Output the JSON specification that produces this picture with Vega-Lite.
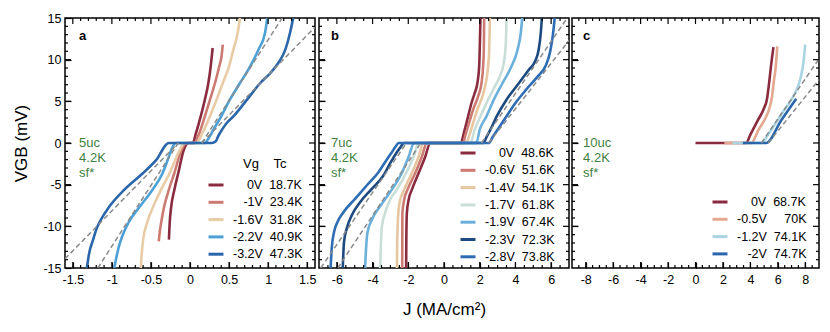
{
  "$schema": "https://vega.github.io/schema/vega-lite/v6.json",
  "padding": {"left": 12, "top": 11, "right": 5, "bottom": 5},
  "spacing": 0,
  "resolve": {"scale": {"x": "independent", "y": "independent", "color": "independent"}, "legend": {"color": "independent"}},
  "config": {
    "font": "Liberation Sans",
    "view": {"stroke": "#000", "strokeWidth": 1.5},
    "axis": {"labelFontSize": 12.5, "labelColor": "#000", "domain": false, "grid": false, "labelFont": "Liberation Sans", "titleFont": "Liberation Sans", "titleFontWeight": "normal", "titleColor": "#000", "labelOverlap": false, "labelFlush": false},
    "legend": {"symbolType": "stroke", "symbolStrokeWidth": 3, "symbolSize": 225, "labelFontSize": 12.5, "labelFont": "Liberation Sans", "labelColor": "#000", "rowPadding": 1.3, "labelOffset": 8, "titleFontSize": 13, "titleFontWeight": "normal", "titleFont": "Liberation Sans", "titleColor": "#000", "titlePadding": 5, "padding": 0}
  },
  "datasets": {
    "va": [
      {"x": -1.5, "y": -15, "k": "M"}, {"x": -1.5, "y": 15, "k": "M"}, {"x": -1.4, "y": -15, "k": "m"}, {"x": -1.4, "y": 15, "k": "m"}, {"x": -1.3, "y": -15, "k": "m"}, {"x": -1.3, "y": 15, "k": "m"}, {"x": -1.2, "y": -15, "k": "m"}, {"x": -1.2, "y": 15, "k": "m"}, {"x": -1.1, "y": -15, "k": "m"}, {"x": -1.1, "y": 15, "k": "m"},
      {"x": -1, "y": -15, "k": "M"}, {"x": -1, "y": 15, "k": "M"}, {"x": -0.9, "y": -15, "k": "m"}, {"x": -0.9, "y": 15, "k": "m"}, {"x": -0.8, "y": -15, "k": "m"}, {"x": -0.8, "y": 15, "k": "m"}, {"x": -0.7, "y": -15, "k": "m"}, {"x": -0.7, "y": 15, "k": "m"}, {"x": -0.6, "y": -15, "k": "m"}, {"x": -0.6, "y": 15, "k": "m"},
      {"x": -0.5, "y": -15, "k": "M"}, {"x": -0.5, "y": 15, "k": "M"}, {"x": -0.4, "y": -15, "k": "m"}, {"x": -0.4, "y": 15, "k": "m"}, {"x": -0.3, "y": -15, "k": "m"}, {"x": -0.3, "y": 15, "k": "m"}, {"x": -0.2, "y": -15, "k": "m"}, {"x": -0.2, "y": 15, "k": "m"}, {"x": -0.1, "y": -15, "k": "m"}, {"x": -0.1, "y": 15, "k": "m"},
      {"x": 0, "y": -15, "k": "M"}, {"x": 0, "y": 15, "k": "M"}, {"x": 0.1, "y": -15, "k": "m"}, {"x": 0.1, "y": 15, "k": "m"}, {"x": 0.2, "y": -15, "k": "m"}, {"x": 0.2, "y": 15, "k": "m"}, {"x": 0.3, "y": -15, "k": "m"}, {"x": 0.3, "y": 15, "k": "m"}, {"x": 0.4, "y": -15, "k": "m"}, {"x": 0.4, "y": 15, "k": "m"},
      {"x": 0.5, "y": -15, "k": "M"}, {"x": 0.5, "y": 15, "k": "M"}, {"x": 0.6, "y": -15, "k": "m"}, {"x": 0.6, "y": 15, "k": "m"}, {"x": 0.7, "y": -15, "k": "m"}, {"x": 0.7, "y": 15, "k": "m"}, {"x": 0.8, "y": -15, "k": "m"}, {"x": 0.8, "y": 15, "k": "m"}, {"x": 0.9, "y": -15, "k": "m"}, {"x": 0.9, "y": 15, "k": "m"},
      {"x": 1, "y": -15, "k": "M"}, {"x": 1, "y": 15, "k": "M"}, {"x": 1.1, "y": -15, "k": "m"}, {"x": 1.1, "y": 15, "k": "m"}, {"x": 1.2, "y": -15, "k": "m"}, {"x": 1.2, "y": 15, "k": "m"}, {"x": 1.3, "y": -15, "k": "m"}, {"x": 1.3, "y": 15, "k": "m"}, {"x": 1.4, "y": -15, "k": "m"}, {"x": 1.4, "y": 15, "k": "m"},
      {"x": 1.5, "y": -15, "k": "M"}, {"x": 1.5, "y": 15, "k": "M"}
    ],
    "vb": [
      {"x": -6.5, "y": -15, "k": "m"}, {"x": -6.5, "y": 15, "k": "m"}, {"x": -6, "y": -15, "k": "M"}, {"x": -6, "y": 15, "k": "M"}, {"x": -5.5, "y": -15, "k": "m"}, {"x": -5.5, "y": 15, "k": "m"}, {"x": -5, "y": -15, "k": "m"}, {"x": -5, "y": 15, "k": "m"}, {"x": -4.5, "y": -15, "k": "m"}, {"x": -4.5, "y": 15, "k": "m"},
      {"x": -4, "y": -15, "k": "M"}, {"x": -4, "y": 15, "k": "M"}, {"x": -3.5, "y": -15, "k": "m"}, {"x": -3.5, "y": 15, "k": "m"}, {"x": -3, "y": -15, "k": "m"}, {"x": -3, "y": 15, "k": "m"}, {"x": -2.5, "y": -15, "k": "m"}, {"x": -2.5, "y": 15, "k": "m"},
      {"x": -2, "y": -15, "k": "M"}, {"x": -2, "y": 15, "k": "M"}, {"x": -1.5, "y": -15, "k": "m"}, {"x": -1.5, "y": 15, "k": "m"}, {"x": -1, "y": -15, "k": "m"}, {"x": -1, "y": 15, "k": "m"}, {"x": -0.5, "y": -15, "k": "m"}, {"x": -0.5, "y": 15, "k": "m"},
      {"x": 0, "y": -15, "k": "M"}, {"x": 0, "y": 15, "k": "M"}, {"x": 0.5, "y": -15, "k": "m"}, {"x": 0.5, "y": 15, "k": "m"}, {"x": 1, "y": -15, "k": "m"}, {"x": 1, "y": 15, "k": "m"}, {"x": 1.5, "y": -15, "k": "m"}, {"x": 1.5, "y": 15, "k": "m"},
      {"x": 2, "y": -15, "k": "M"}, {"x": 2, "y": 15, "k": "M"}, {"x": 2.5, "y": -15, "k": "m"}, {"x": 2.5, "y": 15, "k": "m"}, {"x": 3, "y": -15, "k": "m"}, {"x": 3, "y": 15, "k": "m"}, {"x": 3.5, "y": -15, "k": "m"}, {"x": 3.5, "y": 15, "k": "m"},
      {"x": 4, "y": -15, "k": "M"}, {"x": 4, "y": 15, "k": "M"}, {"x": 4.5, "y": -15, "k": "m"}, {"x": 4.5, "y": 15, "k": "m"}, {"x": 5, "y": -15, "k": "m"}, {"x": 5, "y": 15, "k": "m"}, {"x": 5.5, "y": -15, "k": "m"}, {"x": 5.5, "y": 15, "k": "m"},
      {"x": 6, "y": -15, "k": "M"}, {"x": 6, "y": 15, "k": "M"}, {"x": 6.5, "y": -15, "k": "m"}, {"x": 6.5, "y": 15, "k": "m"}
    ],
    "vc": [
      {"x": -8.5, "y": -15, "k": "m"}, {"x": -8.5, "y": 15, "k": "m"}, {"x": -8, "y": -15, "k": "M"}, {"x": -8, "y": 15, "k": "M"}, {"x": -7.5, "y": -15, "k": "m"}, {"x": -7.5, "y": 15, "k": "m"}, {"x": -7, "y": -15, "k": "m"}, {"x": -7, "y": 15, "k": "m"}, {"x": -6.5, "y": -15, "k": "m"}, {"x": -6.5, "y": 15, "k": "m"},
      {"x": -6, "y": -15, "k": "M"}, {"x": -6, "y": 15, "k": "M"}, {"x": -5.5, "y": -15, "k": "m"}, {"x": -5.5, "y": 15, "k": "m"}, {"x": -5, "y": -15, "k": "m"}, {"x": -5, "y": 15, "k": "m"}, {"x": -4.5, "y": -15, "k": "m"}, {"x": -4.5, "y": 15, "k": "m"},
      {"x": -4, "y": -15, "k": "M"}, {"x": -4, "y": 15, "k": "M"}, {"x": -3.5, "y": -15, "k": "m"}, {"x": -3.5, "y": 15, "k": "m"}, {"x": -3, "y": -15, "k": "m"}, {"x": -3, "y": 15, "k": "m"}, {"x": -2.5, "y": -15, "k": "m"}, {"x": -2.5, "y": 15, "k": "m"},
      {"x": -2, "y": -15, "k": "M"}, {"x": -2, "y": 15, "k": "M"}, {"x": -1.5, "y": -15, "k": "m"}, {"x": -1.5, "y": 15, "k": "m"}, {"x": -1, "y": -15, "k": "m"}, {"x": -1, "y": 15, "k": "m"}, {"x": -0.5, "y": -15, "k": "m"}, {"x": -0.5, "y": 15, "k": "m"},
      {"x": 0, "y": -15, "k": "M"}, {"x": 0, "y": 15, "k": "M"}, {"x": 0.5, "y": -15, "k": "m"}, {"x": 0.5, "y": 15, "k": "m"}, {"x": 1, "y": -15, "k": "m"}, {"x": 1, "y": 15, "k": "m"}, {"x": 1.5, "y": -15, "k": "m"}, {"x": 1.5, "y": 15, "k": "m"},
      {"x": 2, "y": -15, "k": "M"}, {"x": 2, "y": 15, "k": "M"}, {"x": 2.5, "y": -15, "k": "m"}, {"x": 2.5, "y": 15, "k": "m"}, {"x": 3, "y": -15, "k": "m"}, {"x": 3, "y": 15, "k": "m"}, {"x": 3.5, "y": -15, "k": "m"}, {"x": 3.5, "y": 15, "k": "m"},
      {"x": 4, "y": -15, "k": "M"}, {"x": 4, "y": 15, "k": "M"}, {"x": 4.5, "y": -15, "k": "m"}, {"x": 4.5, "y": 15, "k": "m"}, {"x": 5, "y": -15, "k": "m"}, {"x": 5, "y": 15, "k": "m"}, {"x": 5.5, "y": -15, "k": "m"}, {"x": 5.5, "y": 15, "k": "m"},
      {"x": 6, "y": -15, "k": "M"}, {"x": 6, "y": 15, "k": "M"}, {"x": 6.5, "y": -15, "k": "m"}, {"x": 6.5, "y": 15, "k": "m"}, {"x": 7, "y": -15, "k": "m"}, {"x": 7, "y": 15, "k": "m"}, {"x": 7.5, "y": -15, "k": "m"}, {"x": 7.5, "y": 15, "k": "m"},
      {"x": 8, "y": -15, "k": "M"}, {"x": 8, "y": 15, "k": "M"}, {"x": 8.5, "y": -15, "k": "m"}, {"x": 8.5, "y": 15, "k": "m"}
    ],
    "ha": [
      {"y": -14, "x": -1.6, "k": "m"}, {"y": -14, "x": 1.6, "k": "m"}, {"y": -13, "x": -1.6, "k": "m"}, {"y": -13, "x": 1.6, "k": "m"}, {"y": -12, "x": -1.6, "k": "m"}, {"y": -12, "x": 1.6, "k": "m"}, {"y": -11, "x": -1.6, "k": "m"}, {"y": -11, "x": 1.6, "k": "m"},
      {"y": -10, "x": -1.6, "k": "M"}, {"y": -10, "x": 1.6, "k": "M"}, {"y": -9, "x": -1.6, "k": "m"}, {"y": -9, "x": 1.6, "k": "m"}, {"y": -8, "x": -1.6, "k": "m"}, {"y": -8, "x": 1.6, "k": "m"}, {"y": -7, "x": -1.6, "k": "m"}, {"y": -7, "x": 1.6, "k": "m"}, {"y": -6, "x": -1.6, "k": "m"}, {"y": -6, "x": 1.6, "k": "m"},
      {"y": -5, "x": -1.6, "k": "M"}, {"y": -5, "x": 1.6, "k": "M"}, {"y": -4, "x": -1.6, "k": "m"}, {"y": -4, "x": 1.6, "k": "m"}, {"y": -3, "x": -1.6, "k": "m"}, {"y": -3, "x": 1.6, "k": "m"}, {"y": -2, "x": -1.6, "k": "m"}, {"y": -2, "x": 1.6, "k": "m"}, {"y": -1, "x": -1.6, "k": "m"}, {"y": -1, "x": 1.6, "k": "m"},
      {"y": 0, "x": -1.6, "k": "M"}, {"y": 0, "x": 1.6, "k": "M"}, {"y": 1, "x": -1.6, "k": "m"}, {"y": 1, "x": 1.6, "k": "m"}, {"y": 2, "x": -1.6, "k": "m"}, {"y": 2, "x": 1.6, "k": "m"}, {"y": 3, "x": -1.6, "k": "m"}, {"y": 3, "x": 1.6, "k": "m"}, {"y": 4, "x": -1.6, "k": "m"}, {"y": 4, "x": 1.6, "k": "m"},
      {"y": 5, "x": -1.6, "k": "M"}, {"y": 5, "x": 1.6, "k": "M"}, {"y": 6, "x": -1.6, "k": "m"}, {"y": 6, "x": 1.6, "k": "m"}, {"y": 7, "x": -1.6, "k": "m"}, {"y": 7, "x": 1.6, "k": "m"}, {"y": 8, "x": -1.6, "k": "m"}, {"y": 8, "x": 1.6, "k": "m"}, {"y": 9, "x": -1.6, "k": "m"}, {"y": 9, "x": 1.6, "k": "m"},
      {"y": 10, "x": -1.6, "k": "M"}, {"y": 10, "x": 1.6, "k": "M"}, {"y": 11, "x": -1.6, "k": "m"}, {"y": 11, "x": 1.6, "k": "m"}, {"y": 12, "x": -1.6, "k": "m"}, {"y": 12, "x": 1.6, "k": "m"}, {"y": 13, "x": -1.6, "k": "m"}, {"y": 13, "x": 1.6, "k": "m"}, {"y": 14, "x": -1.6, "k": "m"}, {"y": 14, "x": 1.6, "k": "m"}
    ],
    "hb": [
      {"y": -14, "x": -7, "k": "m"}, {"y": -14, "x": 7, "k": "m"}, {"y": -13, "x": -7, "k": "m"}, {"y": -13, "x": 7, "k": "m"}, {"y": -12, "x": -7, "k": "m"}, {"y": -12, "x": 7, "k": "m"}, {"y": -11, "x": -7, "k": "m"}, {"y": -11, "x": 7, "k": "m"},
      {"y": -10, "x": -7, "k": "M"}, {"y": -10, "x": 7, "k": "M"}, {"y": -9, "x": -7, "k": "m"}, {"y": -9, "x": 7, "k": "m"}, {"y": -8, "x": -7, "k": "m"}, {"y": -8, "x": 7, "k": "m"}, {"y": -7, "x": -7, "k": "m"}, {"y": -7, "x": 7, "k": "m"}, {"y": -6, "x": -7, "k": "m"}, {"y": -6, "x": 7, "k": "m"},
      {"y": -5, "x": -7, "k": "M"}, {"y": -5, "x": 7, "k": "M"}, {"y": -4, "x": -7, "k": "m"}, {"y": -4, "x": 7, "k": "m"}, {"y": -3, "x": -7, "k": "m"}, {"y": -3, "x": 7, "k": "m"}, {"y": -2, "x": -7, "k": "m"}, {"y": -2, "x": 7, "k": "m"}, {"y": -1, "x": -7, "k": "m"}, {"y": -1, "x": 7, "k": "m"},
      {"y": 0, "x": -7, "k": "M"}, {"y": 0, "x": 7, "k": "M"}, {"y": 1, "x": -7, "k": "m"}, {"y": 1, "x": 7, "k": "m"}, {"y": 2, "x": -7, "k": "m"}, {"y": 2, "x": 7, "k": "m"}, {"y": 3, "x": -7, "k": "m"}, {"y": 3, "x": 7, "k": "m"}, {"y": 4, "x": -7, "k": "m"}, {"y": 4, "x": 7, "k": "m"},
      {"y": 5, "x": -7, "k": "M"}, {"y": 5, "x": 7, "k": "M"}, {"y": 6, "x": -7, "k": "m"}, {"y": 6, "x": 7, "k": "m"}, {"y": 7, "x": -7, "k": "m"}, {"y": 7, "x": 7, "k": "m"}, {"y": 8, "x": -7, "k": "m"}, {"y": 8, "x": 7, "k": "m"}, {"y": 9, "x": -7, "k": "m"}, {"y": 9, "x": 7, "k": "m"},
      {"y": 10, "x": -7, "k": "M"}, {"y": 10, "x": 7, "k": "M"}, {"y": 11, "x": -7, "k": "m"}, {"y": 11, "x": 7, "k": "m"}, {"y": 12, "x": -7, "k": "m"}, {"y": 12, "x": 7, "k": "m"}, {"y": 13, "x": -7, "k": "m"}, {"y": 13, "x": 7, "k": "m"}, {"y": 14, "x": -7, "k": "m"}, {"y": 14, "x": 7, "k": "m"}
    ],
    "hc": [
      {"y": -14, "x": -9, "k": "m"}, {"y": -14, "x": 9, "k": "m"}, {"y": -13, "x": -9, "k": "m"}, {"y": -13, "x": 9, "k": "m"}, {"y": -12, "x": -9, "k": "m"}, {"y": -12, "x": 9, "k": "m"}, {"y": -11, "x": -9, "k": "m"}, {"y": -11, "x": 9, "k": "m"},
      {"y": -10, "x": -9, "k": "M"}, {"y": -10, "x": 9, "k": "M"}, {"y": -9, "x": -9, "k": "m"}, {"y": -9, "x": 9, "k": "m"}, {"y": -8, "x": -9, "k": "m"}, {"y": -8, "x": 9, "k": "m"}, {"y": -7, "x": -9, "k": "m"}, {"y": -7, "x": 9, "k": "m"}, {"y": -6, "x": -9, "k": "m"}, {"y": -6, "x": 9, "k": "m"},
      {"y": -5, "x": -9, "k": "M"}, {"y": -5, "x": 9, "k": "M"}, {"y": -4, "x": -9, "k": "m"}, {"y": -4, "x": 9, "k": "m"}, {"y": -3, "x": -9, "k": "m"}, {"y": -3, "x": 9, "k": "m"}, {"y": -2, "x": -9, "k": "m"}, {"y": -2, "x": 9, "k": "m"}, {"y": -1, "x": -9, "k": "m"}, {"y": -1, "x": 9, "k": "m"},
      {"y": 0, "x": -9, "k": "M"}, {"y": 0, "x": 9, "k": "M"}, {"y": 1, "x": -9, "k": "m"}, {"y": 1, "x": 9, "k": "m"}, {"y": 2, "x": -9, "k": "m"}, {"y": 2, "x": 9, "k": "m"}, {"y": 3, "x": -9, "k": "m"}, {"y": 3, "x": 9, "k": "m"}, {"y": 4, "x": -9, "k": "m"}, {"y": 4, "x": 9, "k": "m"},
      {"y": 5, "x": -9, "k": "M"}, {"y": 5, "x": 9, "k": "M"}, {"y": 6, "x": -9, "k": "m"}, {"y": 6, "x": 9, "k": "m"}, {"y": 7, "x": -9, "k": "m"}, {"y": 7, "x": 9, "k": "m"}, {"y": 8, "x": -9, "k": "m"}, {"y": 8, "x": 9, "k": "m"}, {"y": 9, "x": -9, "k": "m"}, {"y": 9, "x": 9, "k": "m"},
      {"y": 10, "x": -9, "k": "M"}, {"y": 10, "x": 9, "k": "M"}, {"y": 11, "x": -9, "k": "m"}, {"y": 11, "x": 9, "k": "m"}, {"y": 12, "x": -9, "k": "m"}, {"y": 12, "x": 9, "k": "m"}, {"y": 13, "x": -9, "k": "m"}, {"y": 13, "x": 9, "k": "m"}, {"y": 14, "x": -9, "k": "m"}, {"y": 14, "x": 9, "k": "m"}
    ]
  },
  "hconcat": [
    {
      "width": 250, "height": 250,
      "resolve": {"axis": {"x": "independent", "y": "independent"}},
      "layer": [
        {
          "data": {"values": [
            {"s": "\u200b\u2007\u2008\u20080V\u00a0 18.7K", "x": -0.27, "y": -11.6}, {"s": "\u200b\u2007\u2008\u20080V\u00a0 18.7K", "x": -0.265, "y": -10.5}, {"s": "\u200b\u2007\u2008\u20080V\u00a0 18.7K", "x": -0.26, "y": -9.6}, {"s": "\u200b\u2007\u2008\u20080V\u00a0 18.7K", "x": -0.24, "y": -7.6}, {"s": "\u200b\u2007\u2008\u20080V\u00a0 18.7K", "x": -0.2, "y": -5.6}, {"s": "\u200b\u2007\u2008\u20080V\u00a0 18.7K", "x": -0.15, "y": -3.6}, {"s": "\u200b\u2007\u2008\u20080V\u00a0 18.7K", "x": -0.08, "y": -0.84}, {"s": "\u200b\u2007\u2008\u20080V\u00a0 18.7K", "x": -0.02, "y": 0}, {"s": "\u200b\u2007\u2008\u20080V\u00a0 18.7K", "x": 0.035, "y": 0}, {"s": "\u200b\u2007\u2008\u20080V\u00a0 18.7K", "x": 0.077, "y": 1.2}, {"s": "\u200b\u2007\u2008\u20080V\u00a0 18.7K", "x": 0.137, "y": 3.2}, {"s": "\u200b\u2007\u2008\u20080V\u00a0 18.7K", "x": 0.19, "y": 5.2}, {"s": "\u200b\u2007\u2008\u20080V\u00a0 18.7K", "x": 0.235, "y": 7.2}, {"s": "\u200b\u2007\u2008\u20080V\u00a0 18.7K", "x": 0.265, "y": 9.2}, {"s": "\u200b\u2007\u2008\u20080V\u00a0 18.7K", "x": 0.28, "y": 10.5}, {"s": "\u200b\u2007\u2008\u20080V\u00a0 18.7K", "x": 0.29, "y": 11.4},
            {"s": "\u200b\u2007\u2008-1V\u00a0 23.4K", "x": -0.4, "y": -11.8}, {"s": "\u200b\u2007\u2008-1V\u00a0 23.4K", "x": -0.385, "y": -10.5}, {"s": "\u200b\u2007\u2008-1V\u00a0 23.4K", "x": -0.37, "y": -9.6}, {"s": "\u200b\u2007\u2008-1V\u00a0 23.4K", "x": -0.33, "y": -7.6}, {"s": "\u200b\u2007\u2008-1V\u00a0 23.4K", "x": -0.27, "y": -5.6}, {"s": "\u200b\u2007\u2008-1V\u00a0 23.4K", "x": -0.2, "y": -3.6}, {"s": "\u200b\u2007\u2008-1V\u00a0 23.4K", "x": -0.11, "y": -0.84}, {"s": "\u200b\u2007\u2008-1V\u00a0 23.4K", "x": -0.04, "y": 0}, {"s": "\u200b\u2007\u2008-1V\u00a0 23.4K", "x": 0.05, "y": 0}, {"s": "\u200b\u2007\u2008-1V\u00a0 23.4K", "x": 0.12, "y": 1.2}, {"s": "\u200b\u2007\u2008-1V\u00a0 23.4K", "x": 0.19, "y": 3.2}, {"s": "\u200b\u2007\u2008-1V\u00a0 23.4K", "x": 0.256, "y": 5.2}, {"s": "\u200b\u2007\u2008-1V\u00a0 23.4K", "x": 0.32, "y": 7.2}, {"s": "\u200b\u2007\u2008-1V\u00a0 23.4K", "x": 0.375, "y": 9.2}, {"s": "\u200b\u2007\u2008-1V\u00a0 23.4K", "x": 0.405, "y": 10.5}, {"s": "\u200b\u2007\u2008-1V\u00a0 23.4K", "x": 0.42, "y": 11.8},
            {"s": "-1.6V\u00a0 31.8K", "x": -0.63, "y": -15}, {"s": "-1.6V\u00a0 31.8K", "x": -0.615, "y": -13}, {"s": "-1.6V\u00a0 31.8K", "x": -0.6, "y": -11.6}, {"s": "-1.6V\u00a0 31.8K", "x": -0.55, "y": -9.6}, {"s": "-1.6V\u00a0 31.8K", "x": -0.47, "y": -7.6}, {"s": "-1.6V\u00a0 31.8K", "x": -0.37, "y": -5.6}, {"s": "-1.6V\u00a0 31.8K", "x": -0.26, "y": -3.6}, {"s": "-1.6V\u00a0 31.8K", "x": -0.13, "y": -0.84}, {"s": "-1.6V\u00a0 31.8K", "x": -0.07, "y": 0}, {"s": "-1.6V\u00a0 31.8K", "x": 0.08, "y": 0}, {"s": "-1.6V\u00a0 31.8K", "x": 0.16, "y": 1.2}, {"s": "-1.6V\u00a0 31.8K", "x": 0.256, "y": 3.2}, {"s": "-1.6V\u00a0 31.8K", "x": 0.34, "y": 5.2}, {"s": "-1.6V\u00a0 31.8K", "x": 0.42, "y": 7.2}, {"s": "-1.6V\u00a0 31.8K", "x": 0.5, "y": 9.2}, {"s": "-1.6V\u00a0 31.8K", "x": 0.555, "y": 11.2}, {"s": "-1.6V\u00a0 31.8K", "x": 0.61, "y": 13.2}, {"s": "-1.6V\u00a0 31.8K", "x": 0.64, "y": 15},
            {"s": "-2.2V\u00a0 40.9K", "x": -0.97, "y": -15}, {"s": "-2.2V\u00a0 40.9K", "x": -0.91, "y": -12.4}, {"s": "-2.2V\u00a0 40.9K", "x": -0.86, "y": -11}, {"s": "-2.2V\u00a0 40.9K", "x": -0.79, "y": -9.6}, {"s": "-2.2V\u00a0 40.9K", "x": -0.64, "y": -7.6}, {"s": "-2.2V\u00a0 40.9K", "x": -0.48, "y": -5.6}, {"s": "-2.2V\u00a0 40.9K", "x": -0.35, "y": -3.6}, {"s": "-2.2V\u00a0 40.9K", "x": -0.27, "y": -1.64}, {"s": "-2.2V\u00a0 40.9K", "x": -0.23, "y": -0.6}, {"s": "-2.2V\u00a0 40.9K", "x": -0.18, "y": 0}, {"s": "-2.2V\u00a0 40.9K", "x": 0.19, "y": 0}, {"s": "-2.2V\u00a0 40.9K", "x": 0.24, "y": 0.6}, {"s": "-2.2V\u00a0 40.9K", "x": 0.3, "y": 1.6}, {"s": "-2.2V\u00a0 40.9K", "x": 0.4, "y": 3.2}, {"s": "-2.2V\u00a0 40.9K", "x": 0.51, "y": 5.2}, {"s": "-2.2V\u00a0 40.9K", "x": 0.64, "y": 7.2}, {"s": "-2.2V\u00a0 40.9K", "x": 0.77, "y": 9.2}, {"s": "-2.2V\u00a0 40.9K", "x": 0.876, "y": 11.2}, {"s": "-2.2V\u00a0 40.9K", "x": 0.96, "y": 13.2}, {"s": "-2.2V\u00a0 40.9K", "x": 0.99, "y": 15},
            {"s": "-3.2V\u00a0 47.3K", "x": -1.32, "y": -15}, {"s": "-3.2V\u00a0 47.3K", "x": -1.29, "y": -13.2}, {"s": "-3.2V\u00a0 47.3K", "x": -1.24, "y": -11.6}, {"s": "-3.2V\u00a0 47.3K", "x": -1.2, "y": -10.4}, {"s": "-3.2V\u00a0 47.3K", "x": -1.14, "y": -9.2}, {"s": "-3.2V\u00a0 47.3K", "x": -1.03, "y": -7.6}, {"s": "-3.2V\u00a0 47.3K", "x": -0.84, "y": -5.6}, {"s": "-3.2V\u00a0 47.3K", "x": -0.6, "y": -3.6}, {"s": "-3.2V\u00a0 47.3K", "x": -0.5, "y": -2.7}, {"s": "-3.2V\u00a0 47.3K", "x": -0.42, "y": -1.9}, {"s": "-3.2V\u00a0 47.3K", "x": -0.37, "y": -1.1}, {"s": "-3.2V\u00a0 47.3K", "x": -0.32, "y": -0.35}, {"s": "-3.2V\u00a0 47.3K", "x": -0.27, "y": 0}, {"s": "-3.2V\u00a0 47.3K", "x": 0.28, "y": 0}, {"s": "-3.2V\u00a0 47.3K", "x": 0.33, "y": 0.2}, {"s": "-3.2V\u00a0 47.3K", "x": 0.36, "y": 0.8}, {"s": "-3.2V\u00a0 47.3K", "x": 0.41, "y": 1.6}, {"s": "-3.2V\u00a0 47.3K", "x": 0.47, "y": 2.4}, {"s": "-3.2V\u00a0 47.3K", "x": 0.555, "y": 3.2}, {"s": "-3.2V\u00a0 47.3K", "x": 0.73, "y": 5.2}, {"s": "-3.2V\u00a0 47.3K", "x": 0.9, "y": 7.2}, {"s": "-3.2V\u00a0 47.3K", "x": 1.03, "y": 8.4}, {"s": "-3.2V\u00a0 47.3K", "x": 1.13, "y": 9.6}, {"s": "-3.2V\u00a0 47.3K", "x": 1.22, "y": 11.2}, {"s": "-3.2V\u00a0 47.3K", "x": 1.28, "y": 13.2}, {"s": "-3.2V\u00a0 47.3K", "x": 1.32, "y": 15}
          ]},
          "mark": {"type": "line", "interpolate": "monotone", "strokeWidth": 2.6, "clip": true},
          "encoding": {
            "x": {"field": "x", "type": "quantitative", "scale": {"domain": [-1.6, 1.6], "nice": false, "zero": false},
              "axis": {"orient": "bottom", "title": null, "values": [-1.5, -1, -0.5, 0, 0.5, 1, 1.5], "labelExpr": "''+datum.value", "tickSize": -6, "tickColor": "#000", "tickWidth": 1.2, "labelPadding": 11}},
            "y": {"field": "y", "type": "quantitative", "scale": {"domain": [-15, 15], "nice": false, "zero": false},
              "axis": {"orient": "left", "title": "VGB (mV)", "titleFontSize": 17, "titlePadding": 12, "values": [-15, -10, -5, 0, 5, 10, 15], "labelExpr": "''+datum.value", "tickSize": -6, "tickColor": "#000", "tickWidth": 1.2, "labelPadding": 10}},
            "color": {"field": "s", "type": "nominal",
              "scale": {"domain": ["\u200b\u2007\u2008\u20080V\u00a0 18.7K", "\u200b\u2007\u2008-1V\u00a0 23.4K", "-1.6V\u00a0 31.8K", "-2.2V\u00a0 40.9K", "-3.2V\u00a0 47.3K"], "range": ["#8b2b3f", "#cc7a72", "#e9cba6", "#4da1d6", "#2b66aa"]},
              "legend": {"title": "\u200b\u00a0\u00a0\u00a0\u00a0\u00a0\u00a0\u00a0\u00a0\u00a0\u00a0Vg\u00a0\u00a0\u00a0\u00a0Tc", "orient": "none", "legendX": 142, "legendY": 140}}
          }
        },
        {
          "data": {"values": [
            {"g": "1", "x": -1.18, "y": -15}, {"g": "1", "x": -0.15, "y": 0},
            {"g": "2", "x": 0.15, "y": 0}, {"g": "2", "x": 1.18, "y": 15},
            {"g": "3", "x": -1.6, "y": -13.9}, {"g": "3", "x": -0.15, "y": 0},
            {"g": "4", "x": 0.15, "y": 0}, {"g": "4", "x": 1.6, "y": 13.9}
          ]},
          "mark": {"type": "line", "color": "#8a8a8a", "strokeWidth": 1.5, "strokeDash": [5, 3], "clip": true},
          "encoding": {"detail": {"field": "g"}, "x": {"field": "x", "type": "quantitative", "axis": null}, "y": {"field": "y", "type": "quantitative", "axis": null}}
        },
        {
          "data": {"name": "va"},
          "mark": {"type": "tick", "orient": "vertical", "clip": true, "color": "#000", "thickness": 1.2, "opacity": 1},
          "encoding": {"x": {"field": "x", "type": "quantitative", "axis": null}, "y": {"field": "y", "type": "quantitative", "axis": null},
            "size": {"field": "k", "type": "nominal", "scale": {"type": "ordinal", "domain": ["M", "m"], "range": [12, 6]}, "legend": null}}
        },
        {
          "data": {"name": "ha"},
          "mark": {"type": "tick", "orient": "horizontal", "clip": true, "color": "#000", "thickness": 1.2, "opacity": 1},
          "encoding": {"x": {"field": "x", "type": "quantitative", "axis": null}, "y": {"field": "y", "type": "quantitative", "axis": null},
            "size": {"field": "k", "type": "nominal", "scale": {"type": "ordinal", "domain": ["M", "m"], "range": [12, 6]}, "legend": null}}
        },
        {
          "data": {"values": [{"x": -1.42, "y": 12.9, "t": "a"}]},
          "mark": {"type": "text", "align": "left", "baseline": "middle", "fontSize": 13, "fontWeight": "bold", "color": "#000"},
          "encoding": {"x": {"field": "x", "type": "quantitative", "axis": null}, "y": {"field": "y", "type": "quantitative", "axis": null}, "text": {"field": "t"}}
        },
        {
          "data": {"values": [{"x": -1.42, "y": 0, "t": "5uc\n4.2K\nsf*"}]},
          "mark": {"type": "text", "align": "left", "baseline": "middle", "fontSize": 13, "lineBreak": "\n", "lineHeight": 15, "color": "#3f7f3f"},
          "encoding": {"x": {"field": "x", "type": "quantitative", "axis": null}, "y": {"field": "y", "type": "quantitative", "axis": null}, "text": {"field": "t"}}
        }
      ]
    },
    {
      "width": 250, "height": 250,
      "resolve": {"axis": {"x": "independent", "y": "independent"}},
      "layer": [
        {
          "data": {"values": [
            {"s": "\u200b\u2007\u2008\u20080V\u00a0 48.6K", "x": -2.12, "y": -15}, {"s": "\u200b\u2007\u2008\u20080V\u00a0 48.6K", "x": -2.115, "y": -13}, {"s": "\u200b\u2007\u2008\u20080V\u00a0 48.6K", "x": -2.11, "y": -11.6}, {"s": "\u200b\u2007\u2008\u20080V\u00a0 48.6K", "x": -2.08, "y": -8.4}, {"s": "\u200b\u2007\u2008\u20080V\u00a0 48.6K", "x": -1.98, "y": -6.8}, {"s": "\u200b\u2007\u2008\u20080V\u00a0 48.6K", "x": -1.8, "y": -5.6}, {"s": "\u200b\u2007\u2008\u20080V\u00a0 48.6K", "x": -1.42, "y": -3.6}, {"s": "\u200b\u2007\u2008\u20080V\u00a0 48.6K", "x": -1.05, "y": -1.64}, {"s": "\u200b\u2007\u2008\u20080V\u00a0 48.6K", "x": -0.77, "y": 0}, {"s": "\u200b\u2007\u2008\u20080V\u00a0 48.6K", "x": 0.92, "y": 0}, {"s": "\u200b\u2007\u2008\u20080V\u00a0 48.6K", "x": 1.16, "y": 1.6}, {"s": "\u200b\u2007\u2008\u20080V\u00a0 48.6K", "x": 1.35, "y": 3.2}, {"s": "\u200b\u2007\u2008\u20080V\u00a0 48.6K", "x": 1.54, "y": 4.8}, {"s": "\u200b\u2007\u2008\u20080V\u00a0 48.6K", "x": 1.72, "y": 6}, {"s": "\u200b\u2007\u2008\u20080V\u00a0 48.6K", "x": 1.87, "y": 7.2}, {"s": "\u200b\u2007\u2008\u20080V\u00a0 48.6K", "x": 1.97, "y": 9.2}, {"s": "\u200b\u2007\u2008\u20080V\u00a0 48.6K", "x": 2, "y": 11.2}, {"s": "\u200b\u2007\u2008\u20080V\u00a0 48.6K", "x": 2.02, "y": 13}, {"s": "\u200b\u2007\u2008\u20080V\u00a0 48.6K", "x": 2.04, "y": 15},
            {"s": "-0.6V\u00a0 51.6K", "x": -2.34, "y": -15}, {"s": "-0.6V\u00a0 51.6K", "x": -2.335, "y": -11.6}, {"s": "-0.6V\u00a0 51.6K", "x": -2.33, "y": -8.4}, {"s": "-0.6V\u00a0 51.6K", "x": -2.23, "y": -6.8}, {"s": "-0.6V\u00a0 51.6K", "x": -2.04, "y": -5.6}, {"s": "-0.6V\u00a0 51.6K", "x": -1.61, "y": -3.6}, {"s": "-0.6V\u00a0 51.6K", "x": -1.24, "y": -1.64}, {"s": "-0.6V\u00a0 51.6K", "x": -0.96, "y": 0}, {"s": "-0.6V\u00a0 51.6K", "x": 1.08, "y": 0}, {"s": "-0.6V\u00a0 51.6K", "x": 1.18, "y": 0.8}, {"s": "-0.6V\u00a0 51.6K", "x": 1.4, "y": 2.4}, {"s": "-0.6V\u00a0 51.6K", "x": 1.63, "y": 4}, {"s": "-0.6V\u00a0 51.6K", "x": 1.91, "y": 5.6}, {"s": "-0.6V\u00a0 51.6K", "x": 2.1, "y": 7.2}, {"s": "-0.6V\u00a0 51.6K", "x": 2.19, "y": 9.2}, {"s": "-0.6V\u00a0 51.6K", "x": 2.23, "y": 11.2}, {"s": "-0.6V\u00a0 51.6K", "x": 2.24, "y": 13}, {"s": "-0.6V\u00a0 51.6K", "x": 2.25, "y": 15},
            {"s": "-1.4V\u00a0 54.1K", "x": -2.64, "y": -15}, {"s": "-1.4V\u00a0 54.1K", "x": -2.62, "y": -12}, {"s": "-1.4V\u00a0 54.1K", "x": -2.58, "y": -9.2}, {"s": "-1.4V\u00a0 54.1K", "x": -2.49, "y": -7.2}, {"s": "-1.4V\u00a0 54.1K", "x": -2.23, "y": -5.6}, {"s": "-1.4V\u00a0 54.1K", "x": -1.8, "y": -3.6}, {"s": "-1.4V\u00a0 54.1K", "x": -1.42, "y": -1.64}, {"s": "-1.4V\u00a0 54.1K", "x": -1.14, "y": 0}, {"s": "-1.4V\u00a0 54.1K", "x": 1.25, "y": 0}, {"s": "-1.4V\u00a0 54.1K", "x": 1.4, "y": 0.8}, {"s": "-1.4V\u00a0 54.1K", "x": 1.63, "y": 2.4}, {"s": "-1.4V\u00a0 54.1K", "x": 1.87, "y": 4}, {"s": "-1.4V\u00a0 54.1K", "x": 2.15, "y": 5.6}, {"s": "-1.4V\u00a0 54.1K", "x": 2.34, "y": 7.2}, {"s": "-1.4V\u00a0 54.1K", "x": 2.47, "y": 9.2}, {"s": "-1.4V\u00a0 54.1K", "x": 2.53, "y": 11.2}, {"s": "-1.4V\u00a0 54.1K", "x": 2.55, "y": 13}, {"s": "-1.4V\u00a0 54.1K", "x": 2.57, "y": 15},
            {"s": "-1.7V\u00a0 61.8K", "x": -3.58, "y": -15}, {"s": "-1.7V\u00a0 61.8K", "x": -3.53, "y": -12}, {"s": "-1.7V\u00a0 61.8K", "x": -3.48, "y": -10}, {"s": "-1.7V\u00a0 61.8K", "x": -3.3, "y": -8.4}, {"s": "-1.7V\u00a0 61.8K", "x": -3.02, "y": -6.8}, {"s": "-1.7V\u00a0 61.8K", "x": -2.64, "y": -5.6}, {"s": "-1.7V\u00a0 61.8K", "x": -2.12, "y": -3.6}, {"s": "-1.7V\u00a0 61.8K", "x": -1.7, "y": -1.64}, {"s": "-1.7V\u00a0 61.8K", "x": -1.42, "y": 0}, {"s": "-1.7V\u00a0 61.8K", "x": 1.48, "y": 0}, {"s": "-1.7V\u00a0 61.8K", "x": 1.72, "y": 1.6}, {"s": "-1.7V\u00a0 61.8K", "x": 2.04, "y": 3.2}, {"s": "-1.7V\u00a0 61.8K", "x": 2.47, "y": 5.2}, {"s": "-1.7V\u00a0 61.8K", "x": 2.85, "y": 6.8}, {"s": "-1.7V\u00a0 61.8K", "x": 3.13, "y": 8}, {"s": "-1.7V\u00a0 61.8K", "x": 3.31, "y": 9.2}, {"s": "-1.7V\u00a0 61.8K", "x": 3.44, "y": 11.2}, {"s": "-1.7V\u00a0 61.8K", "x": 3.48, "y": 13}, {"s": "-1.7V\u00a0 61.8K", "x": 3.5, "y": 15},
            {"s": "-1.9V\u00a0 67.4K", "x": -4.42, "y": -15}, {"s": "-1.9V\u00a0 67.4K", "x": -4.36, "y": -12.5}, {"s": "-1.9V\u00a0 67.4K", "x": -4.29, "y": -10.8}, {"s": "-1.9V\u00a0 67.4K", "x": -4.04, "y": -9.2}, {"s": "-1.9V\u00a0 67.4K", "x": -3.58, "y": -7.6}, {"s": "-1.9V\u00a0 67.4K", "x": -2.92, "y": -5.6}, {"s": "-1.9V\u00a0 67.4K", "x": -2.36, "y": -3.6}, {"s": "-1.9V\u00a0 67.4K", "x": -1.98, "y": -1.64}, {"s": "-1.9V\u00a0 67.4K", "x": -1.67, "y": 0}, {"s": "-1.9V\u00a0 67.4K", "x": 1.81, "y": 0}, {"s": "-1.9V\u00a0 67.4K", "x": 2, "y": 1.6}, {"s": "-1.9V\u00a0 67.4K", "x": 2.38, "y": 3.2}, {"s": "-1.9V\u00a0 67.4K", "x": 2.79, "y": 5.2}, {"s": "-1.9V\u00a0 67.4K", "x": 3.28, "y": 7.2}, {"s": "-1.9V\u00a0 67.4K", "x": 3.78, "y": 9.2}, {"s": "-1.9V\u00a0 67.4K", "x": 4.12, "y": 11.2}, {"s": "-1.9V\u00a0 67.4K", "x": 4.3, "y": 13.2}, {"s": "-1.9V\u00a0 67.4K", "x": 4.38, "y": 15},
            {"s": "-2.3V\u00a0 72.3K", "x": -5.67, "y": -15}, {"s": "-2.3V\u00a0 72.3K", "x": -5.6, "y": -11.9}, {"s": "-2.3V\u00a0 72.3K", "x": -5.45, "y": -10.3}, {"s": "-2.3V\u00a0 72.3K", "x": -5.17, "y": -8.7}, {"s": "-2.3V\u00a0 72.3K", "x": -4.7, "y": -7.1}, {"s": "-2.3V\u00a0 72.3K", "x": -4.04, "y": -5.5}, {"s": "-2.3V\u00a0 72.3K", "x": -3.39, "y": -3.9}, {"s": "-2.3V\u00a0 72.3K", "x": -2.98, "y": -2.3}, {"s": "-2.3V\u00a0 72.3K", "x": -2.64, "y": -1.1}, {"s": "-2.3V\u00a0 72.3K", "x": -2.4, "y": -0.4}, {"s": "-2.3V\u00a0 72.3K", "x": -2.25, "y": 0}, {"s": "-2.3V\u00a0 72.3K", "x": 2.2, "y": 0}, {"s": "-2.3V\u00a0 72.3K", "x": 2.4, "y": 0.8}, {"s": "-2.3V\u00a0 72.3K", "x": 2.6, "y": 1.6}, {"s": "-2.3V\u00a0 72.3K", "x": 2.95, "y": 3.2}, {"s": "-2.3V\u00a0 72.3K", "x": 3.5, "y": 5.2}, {"s": "-2.3V\u00a0 72.3K", "x": 4.2, "y": 7.2}, {"s": "-2.3V\u00a0 72.3K", "x": 4.75, "y": 8.8}, {"s": "-2.3V\u00a0 72.3K", "x": 5.1, "y": 9.8}, {"s": "-2.3V\u00a0 72.3K", "x": 5.3, "y": 11.2}, {"s": "-2.3V\u00a0 72.3K", "x": 5.42, "y": 13.2}, {"s": "-2.3V\u00a0 72.3K", "x": 5.48, "y": 15},
            {"s": "-2.8V\u00a0 73.8K", "x": -6.35, "y": -15}, {"s": "-2.8V\u00a0 73.8K", "x": -6.29, "y": -12.7}, {"s": "-2.8V\u00a0 73.8K", "x": -6.16, "y": -10.7}, {"s": "-2.8V\u00a0 73.8K", "x": -5.97, "y": -9.5}, {"s": "-2.8V\u00a0 73.8K", "x": -5.63, "y": -8.3}, {"s": "-2.8V\u00a0 73.8K", "x": -4.98, "y": -6.7}, {"s": "-2.8V\u00a0 73.8K", "x": -4.33, "y": -5.1}, {"s": "-2.8V\u00a0 73.8K", "x": -3.67, "y": -3.5}, {"s": "-2.8V\u00a0 73.8K", "x": -3.3, "y": -2.3}, {"s": "-2.8V\u00a0 73.8K", "x": -2.92, "y": -1.1}, {"s": "-2.8V\u00a0 73.8K", "x": -2.7, "y": -0.4}, {"s": "-2.8V\u00a0 73.8K", "x": -2.55, "y": 0}, {"s": "-2.8V\u00a0 73.8K", "x": 2.5, "y": 0}, {"s": "-2.8V\u00a0 73.8K", "x": 2.75, "y": 0.8}, {"s": "-2.8V\u00a0 73.8K", "x": 3, "y": 1.6}, {"s": "-2.8V\u00a0 73.8K", "x": 3.5, "y": 3.2}, {"s": "-2.8V\u00a0 73.8K", "x": 4, "y": 4.8}, {"s": "-2.8V\u00a0 73.8K", "x": 4.6, "y": 6.4}, {"s": "-2.8V\u00a0 73.8K", "x": 5.25, "y": 8}, {"s": "-2.8V\u00a0 73.8K", "x": 5.7, "y": 9.3}, {"s": "-2.8V\u00a0 73.8K", "x": 5.95, "y": 11}, {"s": "-2.8V\u00a0 73.8K", "x": 6.1, "y": 13}, {"s": "-2.8V\u00a0 73.8K", "x": 6.2, "y": 15}
          ]},
          "mark": {"type": "line", "interpolate": "monotone", "strokeWidth": 2.6, "clip": true},
          "encoding": {
            "x": {"field": "x", "type": "quantitative", "scale": {"domain": [-7, 7], "nice": false, "zero": false},
              "axis": {"orient": "bottom", "title": "J (MA/cm\u00b2)", "titleFontSize": 17, "titlePadding": 16, "values": [-6, -4, -2, 0, 2, 4, 6], "labelExpr": "''+datum.value", "offset": -6, "tickSize": 6, "tickColor": "#000", "tickWidth": 1.2, "labelPadding": 5}},
            "y": {"field": "y", "type": "quantitative", "scale": {"domain": [-15, 15], "nice": false, "zero": false},
              "axis": {"orient": "left", "title": null, "labels": false, "values": [-10, -5, 0, 5, 10], "offset": -6, "tickSize": 6, "tickColor": "#000", "tickWidth": 1.2}},
            "color": {"field": "s", "type": "nominal",
              "scale": {"domain": ["\u200b\u2007\u2008\u20080V\u00a0 48.6K", "-0.6V\u00a0 51.6K", "-1.4V\u00a0 54.1K", "-1.7V\u00a0 61.8K", "-1.9V\u00a0 67.4K", "-2.3V\u00a0 72.3K", "-2.8V\u00a0 73.8K"], "range": ["#8b2b3f", "#cc7a72", "#e6c7a0", "#c9ded9", "#6ab0da", "#1d4a80", "#2e6db3"]},
              "legend": {"title": null, "orient": "none", "legendX": 140, "legendY": 126}}
          }
        },
        {
          "data": {"values": [
            {"g": "1", "x": 2.1, "y": 0}, {"g": "1", "x": 6.9, "y": 15},
            {"g": "2", "x": 2.5, "y": 0}, {"g": "2", "x": 7, "y": 12.3},
            {"g": "3", "x": -6.9, "y": -15}, {"g": "3", "x": -2.1, "y": 0},
            {"g": "4", "x": -5.95, "y": -15}, {"g": "4", "x": -1.3, "y": 0}
          ]},
          "mark": {"type": "line", "color": "#8a8a8a", "strokeWidth": 1.5, "strokeDash": [5, 3], "clip": true},
          "encoding": {"detail": {"field": "g"}, "x": {"field": "x", "type": "quantitative", "axis": null}, "y": {"field": "y", "type": "quantitative", "axis": null}}
        },
        {
          "data": {"name": "vb"},
          "mark": {"type": "tick", "orient": "vertical", "clip": true, "color": "#000", "thickness": 1.2, "opacity": 1},
          "encoding": {"x": {"field": "x", "type": "quantitative", "axis": null}, "y": {"field": "y", "type": "quantitative", "axis": null},
            "size": {"field": "k", "type": "nominal", "scale": {"type": "ordinal", "domain": ["M", "m"], "range": [12, 6]}, "legend": null}}
        },
        {
          "data": {"name": "hb"},
          "mark": {"type": "tick", "orient": "horizontal", "clip": true, "color": "#000", "thickness": 1.2, "opacity": 1},
          "encoding": {"x": {"field": "x", "type": "quantitative", "axis": null}, "y": {"field": "y", "type": "quantitative", "axis": null},
            "size": {"field": "k", "type": "nominal", "scale": {"type": "ordinal", "domain": ["M", "m"], "range": [12, 6]}, "legend": null}}
        },
        {
          "data": {"values": [{"x": -6.33, "y": 12.9, "t": "b"}]},
          "mark": {"type": "text", "align": "left", "baseline": "middle", "fontSize": 13, "fontWeight": "bold", "color": "#000"},
          "encoding": {"x": {"field": "x", "type": "quantitative", "axis": null}, "y": {"field": "y", "type": "quantitative", "axis": null}, "text": {"field": "t"}}
        },
        {
          "data": {"values": [{"x": -6.33, "y": 0, "t": "7uc\n4.2K\nsf*"}]},
          "mark": {"type": "text", "align": "left", "baseline": "middle", "fontSize": 13, "lineBreak": "\n", "lineHeight": 15, "color": "#3f7f3f"},
          "encoding": {"x": {"field": "x", "type": "quantitative", "axis": null}, "y": {"field": "y", "type": "quantitative", "axis": null}, "text": {"field": "t"}}
        }
      ]
    },
    {
      "width": 247, "height": 250,
      "resolve": {"axis": {"x": "independent", "y": "independent"}},
      "layer": [
        {
          "data": {"values": [
            {"s": "\u200b\u2007\u2008\u20080V\u00a0 68.7K", "x": 0, "y": 0}, {"s": "\u200b\u2007\u2008\u20080V\u00a0 68.7K", "x": 3.69, "y": 0}, {"s": "\u200b\u2007\u2008\u20080V\u00a0 68.7K", "x": 4, "y": 1}, {"s": "\u200b\u2007\u2008\u20080V\u00a0 68.7K", "x": 4.5, "y": 2.6}, {"s": "\u200b\u2007\u2008\u20080V\u00a0 68.7K", "x": 5, "y": 4.2}, {"s": "\u200b\u2007\u2008\u20080V\u00a0 68.7K", "x": 5.2, "y": 5.2}, {"s": "\u200b\u2007\u2008\u20080V\u00a0 68.7K", "x": 5.35, "y": 7}, {"s": "\u200b\u2007\u2008\u20080V\u00a0 68.7K", "x": 5.5, "y": 9.2}, {"s": "\u200b\u2007\u2008\u20080V\u00a0 68.7K", "x": 5.68, "y": 11.5},
            {"s": "-0.5V\u00a0 \u2007\u200870K", "x": 2.1, "y": 0}, {"s": "-0.5V\u00a0 \u2007\u200870K", "x": 4.05, "y": 0}, {"s": "-0.5V\u00a0 \u2007\u200870K", "x": 4.6, "y": 1.6}, {"s": "-0.5V\u00a0 \u2007\u200870K", "x": 5.1, "y": 3}, {"s": "-0.5V\u00a0 \u2007\u200870K", "x": 5.39, "y": 4.2}, {"s": "-0.5V\u00a0 \u2007\u200870K", "x": 5.58, "y": 5.6}, {"s": "-0.5V\u00a0 \u2007\u200870K", "x": 5.7, "y": 7.3}, {"s": "-0.5V\u00a0 \u2007\u200870K", "x": 5.85, "y": 9.2}, {"s": "-0.5V\u00a0 \u2007\u200870K", "x": 5.96, "y": 11.6},
            {"s": "-1.2V\u00a0 74.1K", "x": 2.7, "y": 0}, {"s": "-1.2V\u00a0 74.1K", "x": 4.8, "y": 0}, {"s": "-1.2V\u00a0 74.1K", "x": 5.4, "y": 1.3}, {"s": "-1.2V\u00a0 74.1K", "x": 6.36, "y": 3.7}, {"s": "-1.2V\u00a0 74.1K", "x": 7.1, "y": 5.5}, {"s": "-1.2V\u00a0 74.1K", "x": 7.45, "y": 6.7}, {"s": "-1.2V\u00a0 74.1K", "x": 7.7, "y": 8.1}, {"s": "-1.2V\u00a0 74.1K", "x": 7.87, "y": 9.7}, {"s": "-1.2V\u00a0 74.1K", "x": 7.99, "y": 11.8},
            {"s": "\u200b\u2007\u2008-2V\u00a0 74.7K", "x": 3.45, "y": 0}, {"s": "\u200b\u2007\u2008-2V\u00a0 74.7K", "x": 5.15, "y": 0}, {"s": "\u200b\u2007\u2008-2V\u00a0 74.7K", "x": 6.24, "y": 2.7}, {"s": "\u200b\u2007\u2008-2V\u00a0 74.7K", "x": 7.34, "y": 5.3}
          ]},
          "mark": {"type": "line", "interpolate": "monotone", "strokeWidth": 2.6, "clip": true},
          "encoding": {
            "x": {"field": "x", "type": "quantitative", "scale": {"domain": [-9, 9], "nice": false, "zero": false},
              "axis": {"orient": "bottom", "title": null, "values": [-8, -6, -4, -2, 0, 2, 4, 6, 8], "labelExpr": "''+datum.value", "offset": -6, "tickSize": 6, "tickColor": "#000", "tickWidth": 1.2, "labelPadding": 5}},
            "y": {"field": "y", "type": "quantitative", "scale": {"domain": [-15, 15], "nice": false, "zero": false},
              "axis": {"orient": "left", "title": null, "labels": false, "values": [-10, -5, 0, 5, 10], "offset": -6, "tickSize": 6, "tickColor": "#000", "tickWidth": 1.2}},
            "color": {"field": "s", "type": "nominal",
              "scale": {"domain": ["\u200b\u2007\u2008\u20080V\u00a0 68.7K", "-0.5V\u00a0 \u2007\u200870K", "-1.2V\u00a0 74.1K", "\u200b\u2007\u2008-2V\u00a0 74.7K"], "range": ["#8b2b3f", "#e3a88f", "#a9d4e2", "#2b66aa"]},
              "legend": {"title": null, "orient": "none", "legendX": 139, "legendY": 175}}
          }
        },
        {
          "data": {"values": [
            {"g": "1", "x": 4.8, "y": 0}, {"g": "1", "x": 9, "y": 10.1},
            {"g": "2", "x": 5.3, "y": 0}, {"g": "2", "x": 9, "y": 7.6}
          ]},
          "mark": {"type": "line", "color": "#8a8a8a", "strokeWidth": 1.5, "strokeDash": [5, 3], "clip": true},
          "encoding": {"detail": {"field": "g"}, "x": {"field": "x", "type": "quantitative", "axis": null}, "y": {"field": "y", "type": "quantitative", "axis": null}}
        },
        {
          "data": {"name": "vc"},
          "mark": {"type": "tick", "orient": "vertical", "clip": true, "color": "#000", "thickness": 1.2, "opacity": 1},
          "encoding": {"x": {"field": "x", "type": "quantitative", "axis": null}, "y": {"field": "y", "type": "quantitative", "axis": null},
            "size": {"field": "k", "type": "nominal", "scale": {"type": "ordinal", "domain": ["M", "m"], "range": [12, 6]}, "legend": null}}
        },
        {
          "data": {"name": "hc"},
          "mark": {"type": "tick", "orient": "horizontal", "clip": true, "color": "#000", "thickness": 1.2, "opacity": 1},
          "encoding": {"x": {"field": "x", "type": "quantitative", "axis": null}, "y": {"field": "y", "type": "quantitative", "axis": null},
            "size": {"field": "k", "type": "nominal", "scale": {"type": "ordinal", "domain": ["M", "m"], "range": [12, 6]}, "legend": null}}
        },
        {
          "data": {"values": [{"x": -8.19, "y": 12.9, "t": "c"}]},
          "mark": {"type": "text", "align": "left", "baseline": "middle", "fontSize": 13, "fontWeight": "bold", "color": "#000"},
          "encoding": {"x": {"field": "x", "type": "quantitative", "axis": null}, "y": {"field": "y", "type": "quantitative", "axis": null}, "text": {"field": "t"}}
        },
        {
          "data": {"values": [{"x": -8.19, "y": 0, "t": "10uc\n4.2K\nsf*"}]},
          "mark": {"type": "text", "align": "left", "baseline": "middle", "fontSize": 13, "lineBreak": "\n", "lineHeight": 15, "color": "#3f7f3f"},
          "encoding": {"x": {"field": "x", "type": "quantitative", "axis": null}, "y": {"field": "y", "type": "quantitative", "axis": null}, "text": {"field": "t"}}
        }
      ]
    }
  ]
}
